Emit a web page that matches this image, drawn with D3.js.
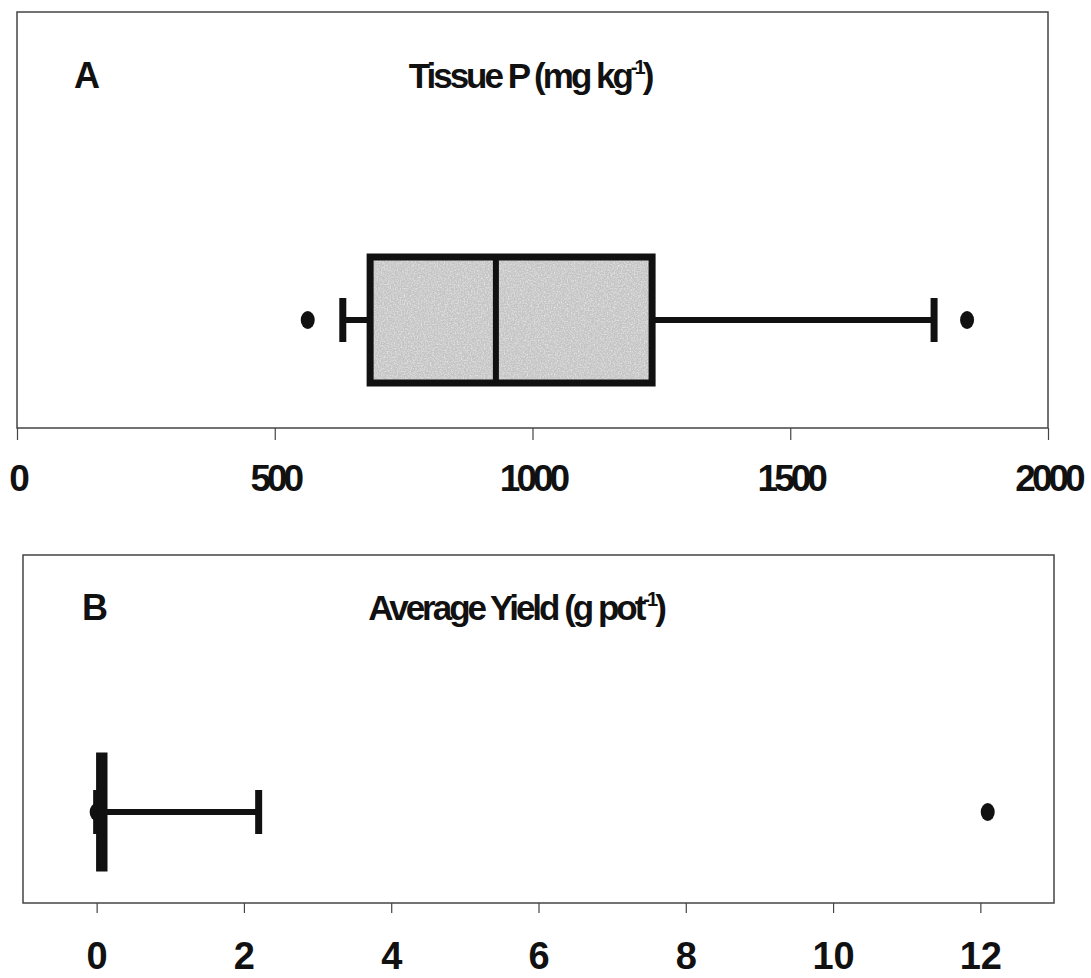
<!DOCTYPE html>
<html>
<head>
<meta charset="utf-8">
<script src="https://cdn.jsdelivr.net/npm/d3@7"></script>
<style>
  body { margin: 0; background: #fff; }
  svg { display: block; font-family: "Liberation Sans", Arial, sans-serif; }
</style>
</head>
<body>
<svg id="chart" width="1091" height="978"></svg>
<script>
// Panel A: tissue P (mg kg-1)
const tissueStats = [632, 685, 929, 1232, 1779];   // low whisker, Q1, median, Q3, high whisker
const tissueOutliers = [564, 1843];
const tissueTicks = [0, 500, 1000, 1500, 2000];

// Panel B: average yield (g pot-1)
const yieldStats = [0, 0.04, 0.07, 0.1, 2.2];
const yieldOutliers = [0, 12.1];
const yieldTicks = [0, 2, 4, 6, 8, 10, 12];

const svg = d3.select("#chart");

// speckled grey for the box fill
const defs = svg.append("defs");
const grain = defs.append("filter")
    .attr("id", "grain")
    .attr("x", 0).attr("y", 0).attr("width", 1).attr("height", 1);
grain.append("feTurbulence")
    .attr("type", "fractalNoise")
    .attr("baseFrequency", 0.7)
    .attr("numOctaves", 2)
    .attr("seed", 4);
grain.append("feColorMatrix")
    .attr("type", "matrix")
    .attr("values", "0 0 0 0 1  0 0 0 0 1  0 0 0 0 1  2.2 0 0 0 -0.85");

// one box-plot panel
function drawPanel(cfg) {
    const g = svg.append("g");

    const x = d3.scaleLinear().domain(cfg.domain).range([cfg.left, cfg.right]);

    // frame
    g.append("rect")
        .attr("x", cfg.left)
        .attr("y", cfg.top)
        .attr("width", cfg.right - cfg.left)
        .attr("height", cfg.bottom - cfg.top)
        .attr("fill", "none")
        .attr("stroke", "#444")
        .attr("stroke-width", 1.5);

    // axis
    const axis = d3.axisBottom(x)
        .tickValues(cfg.ticks)
        .tickSize(cfg.tickLen)
        .tickPadding(cfg.pad)
        .tickFormat(d3.format("d"));

    const ax = g.append("g")
        .attr("transform", `translate(0,${cfg.bottom})`)
        .call(axis);
    ax.select(".domain").remove();
    ax.selectAll(".tick line").attr("stroke", "#444").attr("stroke-width", 1.2);
    ax.selectAll(".tick text")
        .attr("fill", "#111")
        .style("font-size", cfg.tickFont + "px")
        .style("font-weight", "bold")
        .style("letter-spacing", cfg.tickSpacing + "px");

    // panel letter and title
    g.append("text")
        .attr("x", cfg.letterX)
        .attr("y", cfg.titleY)
        .attr("text-anchor", "middle")
        .style("font-size", "36px")
        .style("font-weight", "bold")
        .attr("fill", "#111")
        .text(cfg.letter);

    const title = g.append("text")
        .attr("x", cfg.titleX)
        .attr("y", cfg.titleY)
        .attr("text-anchor", "middle")
        .style("font-size", "35px")
        .style("font-weight", "bold")
        .style("letter-spacing", "-3px")
        .attr("fill", "#111");
    title.append("tspan").text(cfg.title[0]);
    title.append("tspan").attr("dy", -14).style("font-size", "20px").text("-1");
    title.append("tspan").attr("dy", 14).text(")");

    const s = cfg.stats;
    const cy = cfg.boxY;
    const h = cfg.boxH;

    // whiskers
    g.append("line")
        .attr("x1", x(s[0])).attr("x2", x(s[1]))
        .attr("y1", cy).attr("y2", cy)
        .attr("stroke", "#111").attr("stroke-width", 6);
    g.append("line")
        .attr("x1", x(s[3])).attr("x2", x(s[4]))
        .attr("y1", cy).attr("y2", cy)
        .attr("stroke", "#111").attr("stroke-width", 6);

    // caps
    g.selectAll(".cap")
        .data([s[0], s[4]])
        .join("line")
        .attr("class", "cap")
        .attr("x1", d => x(d)).attr("x2", d => x(d))
        .attr("y1", cy - cfg.capH / 2).attr("y2", cy + cfg.capH / 2)
        .attr("stroke", "#111").attr("stroke-width", 7);

    // outliers
    g.selectAll(".out")
        .data(cfg.outliers)
        .join("ellipse")
        .attr("class", "out")
        .attr("cx", d => x(d))
        .attr("cy", cy)
        .attr("rx", 7)
        .attr("ry", 9)
        .attr("fill", "#111");

    // box
    const bx = x(s[1]), bw = x(s[3]) - x(s[1]);
    g.append("rect")
        .attr("x", bx).attr("y", cy - h / 2)
        .attr("width", bw).attr("height", h)
        .attr("fill", "#c4c4c4");
    g.append("rect")
        .attr("x", bx).attr("y", cy - h / 2)
        .attr("width", bw).attr("height", h)
        .attr("fill", "#fff")
        .attr("filter", "url(#grain)")
        .attr("opacity", 0.55);
    g.append("rect")
        .attr("x", bx).attr("y", cy - h / 2)
        .attr("width", bw).attr("height", h)
        .attr("fill", "none")
        .attr("stroke", "#111")
        .attr("stroke-width", 7);

    // median
    g.append("line")
        .attr("x1", x(s[2])).attr("x2", x(s[2]))
        .attr("y1", cy - h / 2).attr("y2", cy + h / 2)
        .attr("stroke", "#111").attr("stroke-width", 6);
}

drawPanel({
    domain: [0, 2000], left: 17, right: 1048, top: 12, bottom: 428,
    ticks: tissueTicks, tickLen: 12, pad: 25, tickFont: 37, tickSpacing: -4,
    letter: "A", letterX: 87, titleX: 530, titleY: 88,
    title: ["Tissue P (mg kg"],
    stats: tissueStats, outliers: tissueOutliers,
    boxY: 320, boxH: 126, capH: 44
});

drawPanel({
    domain: [-1, 13], left: 23, right: 1054, top: 555, bottom: 903,
    ticks: yieldTicks, tickLen: 10, pad: 29, tickFont: 38, tickSpacing: 0,
    letter: "B", letterX: 95, titleX: 516, titleY: 620,
    title: ["Average Yield (g pot"],
    stats: yieldStats, outliers: yieldOutliers,
    boxY: 812, boxH: 112, capH: 44
});
</script>
</body>
</html>
